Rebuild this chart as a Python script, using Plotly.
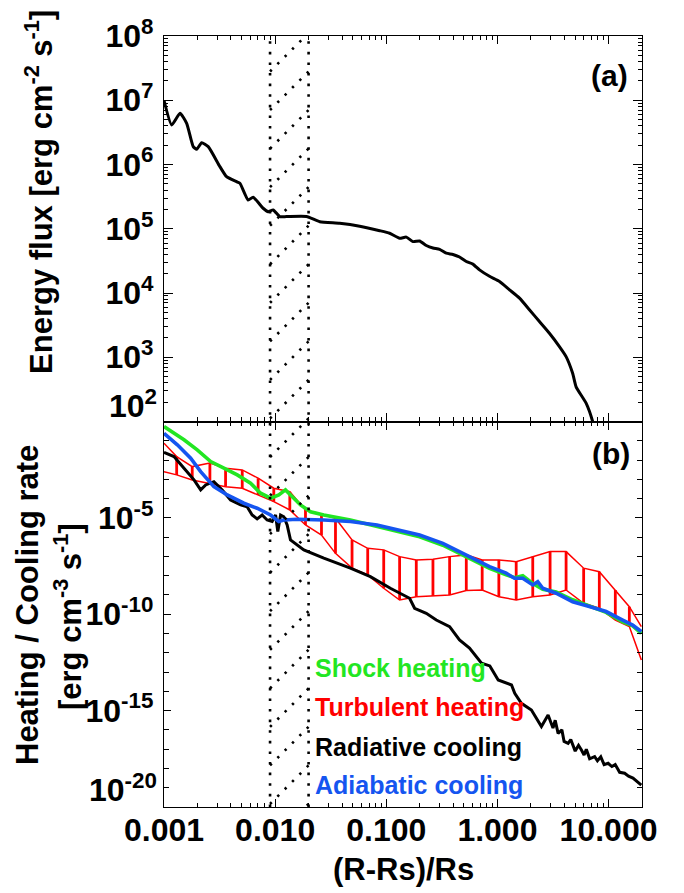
import numpy as np
import plotly.graph_objects as go

# ---------------- data (log10 values) ----------------
# Panel (a): energy flux vs (R-Rs)/Rs
flux_log_r = [-3.000, -2.931, -2.856, -2.796, -2.737, -2.706, -2.661, -2.602, -2.497, -2.437,
              -2.347, -2.317, -2.243, -2.198, -2.108, -2.063, -2.018, -1.958, -1.898, -1.718,
              -1.598, -1.419, -1.239, -1.059, -0.970, -0.880, -0.820, -0.760, -0.700, -0.640,
              -0.580, -0.520, -0.460, -0.400, -0.341, -0.280, -0.221, -0.161, -0.071, 0.019,
              0.109, 0.199, 0.288, 0.378, 0.468, 0.558, 0.618, 0.677, 0.708, 0.798, 0.857, 0.870]
flux_log_f = [7.00, 6.615, 6.797, 6.641, 6.278, 6.237, 6.34, 6.278, 5.967, 5.81,
              5.733, 5.708, 5.448, 5.49, 5.319, 5.266, 5.293, 5.189, 5.189, 5.19,
              5.11, 5.086, 5.04, 4.97, 4.93, 4.852, 4.87, 4.80, 4.81, 4.74,
              4.70, 4.68, 4.62, 4.60, 4.56, 4.49, 4.45, 4.36, 4.26, 4.18,
              4.05, 3.92, 3.74, 3.555, 3.374, 3.166, 3.01, 2.75, 2.54, 2.285, 2.0, 1.9]

# Panel (b): shock heating (green)
shock_log_r = [-3.000, -2.910, -2.820, -2.701, -2.580, -2.461, -2.341, -2.221, -2.131, -2.041,
               -1.967, -1.907, -1.847, -1.772, -1.682, -1.562, -1.323, -1.084, -0.844, -0.700,
               -0.491, -0.280, -0.071, 0.079, 0.154, 0.228, 0.318, 0.408, 0.528, 0.677,
               0.827, 0.978, 1.127, 1.217, 1.295]
shock_log_q = [-0.26, -0.61, -0.95, -1.47, -2.08, -2.42, -2.77, -3.20, -3.72, -3.98,
               -3.81, -3.55, -3.90, -4.33, -4.68, -4.85, -5.11, -5.45, -5.80, -5.98,
               -6.42, -7.02, -7.62, -7.95, -8.10, -8.00, -8.40, -8.70, -8.85, -9.25,
               -9.55, -9.90, -10.40, -10.60, -11.00]

# Panel (b): adiabatic cooling (blue)
adiab_log_r = [-3.000, -2.880, -2.760, -2.670, -2.551, -2.431, -2.281, -2.162, -2.041, -1.967,
               -1.922, -1.802, -1.562, -1.323, -1.084, -0.844, -0.700, -0.491, -0.280, -0.071,
               0.079, 0.154, 0.228, 0.318, 0.363, 0.408, 0.528, 0.677, 0.827, 0.978,
               1.127, 1.217, 1.295]
adiab_log_q = [-0.61, -1.21, -1.90, -2.60, -3.38, -3.81, -4.24, -4.50, -4.85, -5.19,
               -5.11, -5.07, -5.11, -5.19, -5.37, -5.68, -5.89, -6.32, -6.92, -7.53,
               -7.87, -8.13, -8.13, -8.48, -8.31, -8.65, -8.91, -9.35, -9.60, -9.86,
               -10.30, -10.56, -10.90]

# Panel (b): radiative cooling (black)
rad_log_r = [-3.000, -2.910, -2.820, -2.730, -2.670, -2.625, -2.551, -2.476, -2.401, -2.311,
             -2.252, -2.207, -2.162, -2.117, -2.072, -2.027, -1.996, -1.976, -1.951, -1.922,
             -1.892, -1.862, -1.742, -1.562, -1.323, -1.143, -0.963, -0.844, -0.790, -0.745,
             -0.640, -0.550, -0.430, -0.341, -0.251, -0.143, -0.068, 0.007, 0.127, 0.156,
             0.216, 0.306, 0.396, 0.456, 0.50, 0.52, 0.546, 0.58, 0.60, 0.636,
             0.66, 0.70, 0.73, 0.756, 0.78, 0.80, 0.83, 0.875, 0.90, 0.93,
             0.96, 0.996, 1.03, 1.06, 1.10, 1.145, 1.18, 1.22, 1.26, 1.295]
rad_log_q = [-1.60, -1.82, -2.42, -3.03, -3.55, -3.29, -3.12, -3.55, -4.07, -4.33,
             -4.42, -4.85, -5.05, -4.85, -5.11, -5.19, -4.85, -5.71, -4.85, -4.94,
             -5.37, -6.14, -6.66, -7.09, -7.61, -8.05, -8.65, -9.00, -9.17, -9.69,
             -9.95, -10.30, -10.64, -11.33, -11.76, -12.54, -12.68, -13.41, -13.67, -14.10,
             -14.62, -14.97, -15.83, -15.23, -15.9, -15.5, -16.18, -16.0, -16.6, -16.70,
             -16.5, -17.1, -16.8, -17.04, -17.3, -17.0, -17.5, -17.39, -17.6, -17.4,
             -17.8, -17.73, -17.9, -17.8, -18.2, -18.25, -18.4, -18.5, -18.7, -18.86]

# Panel (b): turbulent heating (red) - upper / lower envelope, vertical bars at inner points
turb_log_r = [-3.000, -2.886, -2.746, -2.587, -2.446, -2.296, -2.153, -2.012, -1.868, -1.727,
              -1.583, -1.457, -1.308, -1.167, -1.023, -0.880, -0.730, -0.580, -0.430, -0.280,
              -0.137, 0.013, 0.169, 0.318, 0.474, 0.618, 0.776, 0.917, 1.061, 1.187, 1.295]
turb_log_hi = [-1.13, -1.82, -2.34, -2.16, -2.42, -2.51, -2.94, -3.46, -3.64, -4.59,
               -4.81, -5.02, -6.14, -6.58, -6.66, -7.01, -7.18, -7.15, -7.01, -6.92,
               -7.18, -7.18, -7.27, -7.01, -6.75, -6.75, -7.61, -7.79, -8.74, -9.61, -10.64]
turb_log_lo = [-2.60, -2.77, -3.03, -3.20, -3.38, -3.46, -3.81, -4.16, -4.59, -5.37,
               -5.89, -6.84, -7.61, -7.96, -8.65, -9.26, -9.09, -9.05, -9.00, -8.77,
               -8.74, -9.09, -9.26, -9.09, -9.00, -8.74, -9.43, -9.69, -10.30, -10.64, -12.37]

# Transition region bounds (dotted hatched band)
region_r = [0.009, 0.02]

# Tick labels
x_tickvals = [0.001, 0.01, 0.1, 1, 10]
x_ticktext = ["0.001", "0.010", "0.100", "1.000", "10.000"]
ya_exps = [2, 3, 4, 5, 6, 7, 8]
yb_label_exps = [-20, -15, -10, -5, 0]

legend_items = [("Shock heating", "#22e622"), ("Turbulent heating", "#ff0000"),
                ("Radiative cooling", "#000000"), ("Adiabatic cooling", "#1555f0")]

# ---------------- figure ----------------
P = lambda a: 10 ** np.asarray(a, dtype=float)
GREEN, RED, BLUE = legend_items[0][1], legend_items[1][1], legend_items[3][1]
FONT = "Liberation Sans"

fig = go.Figure()
fig.add_trace(go.Scatter(x=P(flux_log_r), y=P(flux_log_f), mode="lines",
                         line=dict(color="black", width=3, shape="spline", smoothing=0.5),
                         xaxis="x", yaxis="y"))

# red band
fig.add_trace(go.Scatter(x=P(turb_log_r), y=P(turb_log_hi), mode="lines",
                         line=dict(color=RED, width=1.5), xaxis="x2", yaxis="y2"))
fig.add_trace(go.Scatter(x=P(turb_log_r), y=P(turb_log_lo), mode="lines",
                         line=dict(color=RED, width=1.5), xaxis="x2", yaxis="y2"))
vx, vy = [], []
for i in range(1, len(turb_log_r) - 1):
    vx += [10 ** turb_log_r[i], 10 ** turb_log_r[i], None]
    vy += [10 ** turb_log_lo[i], 10 ** turb_log_hi[i], None]
fig.add_trace(go.Scatter(x=vx, y=vy, mode="lines", line=dict(color=RED, width=2.8),
                         xaxis="x2", yaxis="y2"))

fig.add_trace(go.Scatter(x=P(rad_log_r), y=P(rad_log_q), mode="lines",
                         line=dict(color="black", width=3), xaxis="x2", yaxis="y2"))
fig.add_trace(go.Scatter(x=P(shock_log_r), y=P(shock_log_q), mode="lines",
                         line=dict(color=GREEN, width=3.6), xaxis="x2", yaxis="y2"))
fig.add_trace(go.Scatter(x=P(adiab_log_r), y=P(adiab_log_q), mode="lines",
                         line=dict(color=BLUE, width=3.6), xaxis="x2", yaxis="y2"))

# dotted band (overlay axes covering both panels)
fig.add_trace(go.Scatter(x=[region_r[0], region_r[0], None, region_r[1], region_r[1]],
                         y=[0, 1, None, 0, 1], mode="lines",
                         line=dict(color="black", width=2.6, dash="2.6px,8px"),
                         xaxis="x3", yaxis="y3"))
hx, hy = [], []
for s in 0.954 - 0.05 * np.arange(0, 21):
    hx += [region_r[0], region_r[1], None]
    hy += [s, s + 0.05, None]
fig.add_trace(go.Scatter(x=hx, y=hy, mode="lines",
                         line=dict(color="black", width=2.6, dash="2.4px,8px"),
                         xaxis="x3", yaxis="y3"))


def minor_vals(lo, hi):
    return [m * 10.0 ** e for e in range(lo, hi) for m in range(2, 10)]


tickfont = dict(family=FONT, size=32, color="black", weight="bold")
xr = [-3, np.log10(20)]
common_x = dict(type="log", range=xr, showgrid=False, zeroline=False, showline=True,
                linecolor="black", linewidth=1.3, ticks="inside", ticklen=8, tickwidth=1.3,
                tickcolor="black", mirror="ticks", tickvals=x_tickvals,
                minor=dict(ticks="inside", ticklen=4, tickwidth=1.1, tickcolor="black",
                           tickvals=minor_vals(-3, 2), showgrid=False))
fig.update_layout(
    width=684, height=893,
    margin=dict(l=164, r=42, t=36, b=86),
    paper_bgcolor="white", plot_bgcolor="rgba(0,0,0,0)",
    showlegend=False,
    xaxis=dict(**common_x, domain=[0, 1], anchor="y", showticklabels=False),
    xaxis2=dict(**common_x, domain=[0, 1], anchor="y2", matches="x",
                ticktext=x_ticktext, tickfont=tickfont, ticklabelstandoff=-6),
    yaxis=dict(type="log", range=[2, 8], domain=[0.5, 1], anchor="x", showgrid=False,
               zeroline=False, showline=True, linecolor="black", linewidth=1.3,
               ticks="inside", ticklen=9, tickwidth=1.3, tickcolor="black", mirror="ticks",
               tickvals=[10.0 ** e for e in ya_exps],
               ticktext=[""] + ["10<sup>%d</sup>" % e for e in ya_exps[1:]],
               tickfont=tickfont, ticklabelstandoff=3,
               minor=dict(ticks="inside", ticklen=4, tickwidth=1.1, tickcolor="black",
                          tickvals=minor_vals(2, 8), showgrid=False)),
    yaxis2=dict(type="log", range=[-20, 0], domain=[0, 0.5], anchor="x2", showgrid=False,
                zeroline=False, showline=True, linecolor="black", linewidth=1.3,
                ticks="inside", ticklen=7, tickwidth=1.3, tickcolor="black", mirror="ticks",
                tickvals=[10.0 ** e for e in yb_label_exps],
                ticktext=["", "10<sup>-15</sup>", "10<sup>-10</sup>", "10<sup>-5</sup>", ""],
                tickfont=tickfont, ticklabelstandoff=3,
                minor=dict(ticks="inside", ticklen=5, tickwidth=1.1, tickcolor="black",
                           tickvals=[10.0 ** e for e in range(-19, 0) if e % 5],
                           showgrid=False)),
    xaxis3=dict(type="log", range=xr, domain=[0, 1], anchor="y3", visible=False),
    yaxis3=dict(range=[0, 1], domain=[0, 1], anchor="x3", visible=False),
)

ann = []
# bottom tick labels drawn slightly raised (as in the original)
ann.append(dict(text="10<sup>2</sup>", xref="paper", yref="y", x=0, y=2, xanchor="right",
                yanchor="middle", xshift=-5, yshift=18, showarrow=False, font=tickfont))
ann.append(dict(text="10<sup>-20</sup>", xref="paper", yref="y2", x=0, y=-20, xanchor="right",
                yanchor="middle", xshift=-5, yshift=19, showarrow=False, font=tickfont))
titlefont = dict(family=FONT, size=31, color="black", weight="bold")
ann.append(dict(text="Energy flux [erg cm<sup>-2</sup> s<sup>-1</sup>]", textangle=-90,
                xref="paper", yref="paper", x=-0.2615, y=0.7977, xanchor="center",
                yanchor="middle", showarrow=False, font=titlefont))
ann.append(dict(text="Heating / Cooling rate", textangle=-90, xref="paper", yref="paper",
                x=-0.2845, y=0.262, xanchor="center", yanchor="middle", showarrow=False,
                font=titlefont))
ann.append(dict(text="[erg cm<sup>-3</sup> s<sup>-1</sup>]", textangle=-90, xref="paper",
                yref="paper", x=-0.2008, y=0.2464, xanchor="center", yanchor="middle",
                showarrow=False, font=titlefont))
ann.append(dict(text="(R-Rs)/Rs", xref="paper", yref="paper", x=0.5, y=-0.0817,
                xanchor="center", yanchor="middle", showarrow=False, font=titlefont))
ann.append(dict(text="(a)", xref="paper", yref="paper", x=0.975, y=0.9494, xanchor="right",
                yanchor="middle", showarrow=False,
                font=dict(family=FONT, size=30, color="black", weight="bold")))
ann.append(dict(text="(b)", xref="paper", yref="paper", x=0.979, y=0.4591, xanchor="right",
                yanchor="middle", showarrow=False,
                font=dict(family=FONT, size=30, color="black", weight="bold")))
for (label, color), yy in zip(legend_items, [0.1803, 0.1297, 0.0778, 0.0285]):
    ann.append(dict(text=label, xref="paper", yref="paper", x=0.3117, y=yy, xanchor="left",
                    yanchor="middle", showarrow=False,
                    font=dict(family=FONT, size=25, color=color, weight="bold")))
fig.update_layout(annotations=ann)

fig.write_html("out.html")
